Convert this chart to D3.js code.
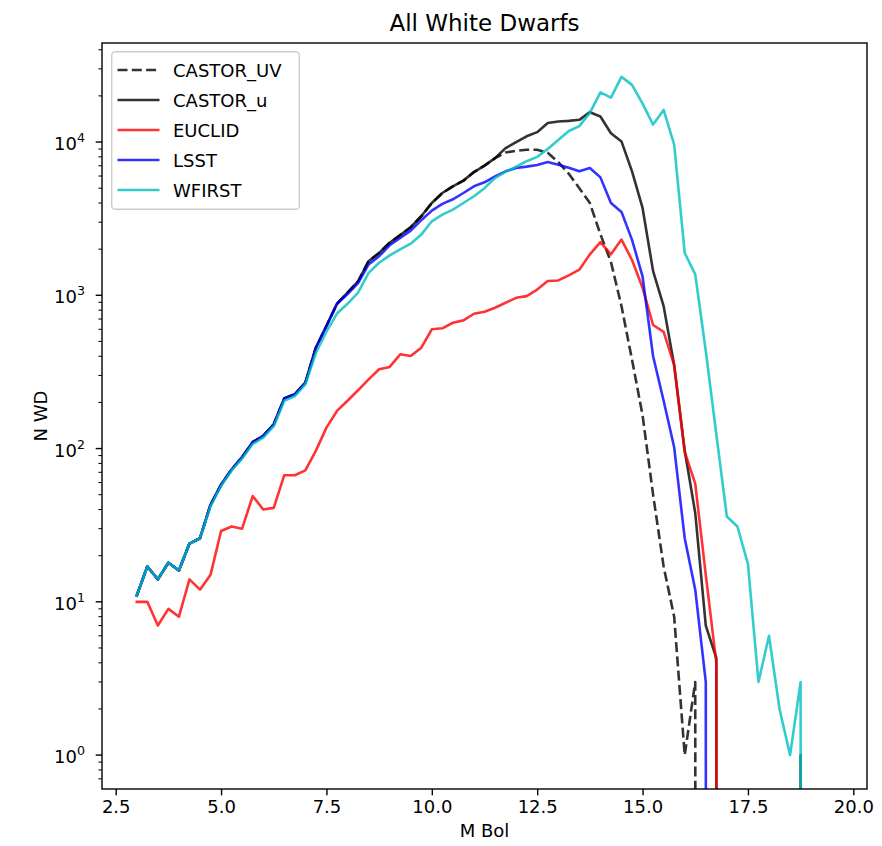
<!DOCTYPE html>
<html><head><meta charset="utf-8">
<script src="https://cdn.jsdelivr.net/npm/d3@7"></script>
<style>
body{margin:0;background:#fff;}
text{font-family:"DejaVu Sans",sans-serif;fill:#000;}
</style>
</head><body>
<svg id="chart" width="882" height="846"></svg>
<script>
// ---------------- DATA ----------------
const mBol = [3.0,3.25,3.5,3.75,4.0,4.25,4.5,4.75,5.0,5.25,5.5,5.75,6.0,6.25,6.5,6.75,
  7.0,7.25,7.5,7.75,8.0,8.25,8.5,8.75,9.0,9.25,9.5,9.75,10.0,10.25,10.5,10.75,
  11.0,11.25,11.5,11.75,12.0,12.25,12.5,12.75,13.0,13.25,13.5,13.75,14.0,14.25,14.5,14.75,
  15.0,15.25,15.5,15.75,16.0,16.25,16.5,16.75,17.0,17.25,17.5,17.75,18.0,18.25,18.5,18.75,
  19.0,19.25,19.5];

const castorUV = [11,17,14,18,16,24,26,43,58,73,88,110,121,144,212,226,
  269,455,630,880,1040,1230,1670,1890,2200,2470,2780,3280,4000,4650,5140,5600,
  6370,7010,7850,8550,8770,8900,8900,8500,7400,6200,5000,4000,2500,1650,850,380,
  165,50,17,8,1,3,0,0,0,0,0,0,0,0,0,0,
  0,0,0];

const castorU = [11,17,14,18,16,24,26,43,58,73,88,110,121,144,212,226,
  269,455,630,880,1040,1230,1670,1890,2200,2470,2780,3280,4000,4650,5140,5600,
  6370,7010,7850,9120,9980,10900,11600,13300,13600,13750,13960,15660,14680,11420,10090,6440,
  3714,1438,850,350,97,38,7,4.3,0,0,0,0,0,0,0,1,
  0,0,0];

const euclid = [10,10,7,9,8,14,12,15,29,31,30,49,40,41,67,67,
  72,97,137,176,205,240,283,329,341,412,402,455,600,609,662,686,
  758,781,829,894,963,988,1090,1240,1250,1350,1470,1850,2220,1850,2310,1700,
  1120,640,578,350,95,59,15,4,0,0,0,0,0,0,0,0,
  0,0,0];

const lsst = [11,17,14,18,16,24,26,43,58,73,88,110,121,144,212,226,
  269,455,630,880,1020,1200,1590,1800,2120,2370,2640,3090,3570,3950,4230,4650,
  5140,5460,5970,6440,6770,6910,7080,7400,7110,6800,6440,6770,5880,4000,3500,2300,
  1330,400,205,102,26,12,3,0,0,0,0,0,0,0,0,0,
  0,0,0];

const wfirst = [11,17,14,18,16,24,26,42,57,72,86,107,118,140,205,220,
  262,420,580,760,880,1040,1400,1630,1820,1990,2170,2490,3040,3360,3620,4000,
  4430,5000,5820,6400,6900,7500,8000,9000,10300,11800,12700,15500,21100,19500,26600,23600,
  17800,13000,16200,9600,1890,1370,433,124,36,31,17.7,3,6,2,1,3,
  0,0,0];

const seriesNames = ["CASTOR_UV","CASTOR_u","EUCLID","LSST","WFIRST"];
const seriesValues = [castorUV, castorU, euclid, lsst, wfirst];
const seriesColors = ["#000000","#000000","#ff0000","#0000ff","#00bfbf"];
const seriesDash = ["10,4.3", null, null, null, null];

const xTickValues = [2.5,5.0,7.5,10.0,12.5,15.0,17.5,20.0];
const yTickExponents = [0,1,2,3,4];

const titleText = "All White Dwarfs";
const xLabelText = "M Bol";
const yLabelText = "N WD";

// ---------------- LAYOUT ----------------
const W = 882, H = 846;
const plot = {left:102, right:867, top:43, bottom:789};
const svg = d3.select("#chart");

// x limits: matplotlib style 5% margins
const xMin = d3.min(mBol), xMax = d3.max(mBol);
const xPad = (xMax - xMin) * 0.05;
const x = d3.scaleLinear().domain([xMin - xPad, xMax + xPad]).range([plot.left, plot.right]);

// y limits (log): 5% margins in log space over positive data
const allPos = seriesValues.flat().filter(v => v > 0);
const lMin = Math.log10(d3.min(allPos)), lMax = Math.log10(d3.max(allPos));
const lPad = (lMax - lMin) * 0.05;
const y = d3.scaleLog().domain([Math.pow(10, lMin - lPad), Math.pow(10, lMax + lPad)]).range([plot.bottom, plot.top]);

svg.append("rect").attr("width", W).attr("height", H).attr("fill", "#fff");

svg.append("defs").append("clipPath").attr("id","plotclip")
  .append("rect").attr("x", plot.left).attr("y", plot.top)
  .attr("width", plot.right - plot.left).attr("height", plot.bottom - plot.top);

// lines
const line = d3.line()
  .x((d,i) => x(mBol[i]))
  .y(d => y(d > 0 ? d : 1e-100));

const gLines = svg.append("g").attr("clip-path","url(#plotclip)");
seriesValues.forEach((vals, k) => {
  gLines.append("path")
    .attr("d", line(vals))
    .attr("fill","none")
    .attr("stroke", seriesColors[k])
    .attr("stroke-opacity", 0.8)
    .attr("stroke-width", 2.6)
    .attr("stroke-linejoin","round")
    .attr("stroke-linecap", seriesDash[k] ? "butt" : "square")
    .attr("stroke-dasharray", seriesDash[k]);
});

// frame
svg.append("rect")
  .attr("x", plot.left).attr("y", plot.top)
  .attr("width", plot.right - plot.left).attr("height", plot.bottom - plot.top)
  .attr("fill","none").attr("stroke","#000").attr("stroke-width",1.4);

// x axis
const xAxis = d3.axisBottom(x).tickValues(xTickValues).tickSize(6.3).tickPadding(5)
  .tickFormat(d3.format(".1f"));
const gx = svg.append("g").attr("transform", `translate(0,${plot.bottom})`).call(xAxis);
gx.select(".domain").remove();
gx.selectAll(".tick line").attr("stroke","#000").attr("stroke-width",1.4);
gx.selectAll(".tick text").attr("font-family","DejaVu Sans").attr("font-size",18).attr("fill","#000");

// y axis major ticks
const majorVals = yTickExponents.map(e => Math.pow(10, e));
const gy = svg.append("g");
gy.selectAll("line.major").data(majorVals).enter().append("line")
  .attr("x1", plot.left - 6.3).attr("x2", plot.left)
  .attr("y1", d => y(d)).attr("y2", d => y(d))
  .attr("stroke","#000").attr("stroke-width",1.4);
// minor ticks
const [d0, d1] = y.domain();
const minorVals = [];
for (let e = Math.floor(Math.log10(d0)); e <= Math.ceil(Math.log10(d1)); e++) {
  for (let m = 2; m <= 9; m++) {
    const v = m * Math.pow(10, e);
    if (v >= d0 && v <= d1) minorVals.push(v);
  }
}
gy.selectAll("line.minor").data(minorVals).enter().append("line")
  .attr("x1", plot.left - 3.6).attr("x2", plot.left)
  .attr("y1", d => y(d)).attr("y2", d => y(d))
  .attr("stroke","#000").attr("stroke-width",1.0);
// labels
const yl = gy.selectAll("text.ylab").data(yTickExponents).enter().append("text")
  .attr("x", plot.left - 17).attr("y", d => y(Math.pow(10, d)) + 8)
  .attr("text-anchor","end").attr("font-size",18);
yl.append("tspan").text("10");
yl.append("tspan").attr("dy",-8).attr("font-size",12.6).text(d => d);

// title & labels
svg.append("text").attr("x",(plot.left+plot.right)/2).attr("y",31)
  .attr("text-anchor","middle").attr("font-size",23).text(titleText);
svg.append("text").attr("x",(plot.left+plot.right)/2).attr("y",837)
  .attr("text-anchor","middle").attr("font-size",18).text(xLabelText);
svg.append("text").attr("transform",`translate(47,${(plot.top+plot.bottom)/2}) rotate(-90)`)
  .attr("text-anchor","middle").attr("font-size",18).text(yLabelText);

// legend
const leg = svg.append("g");
leg.append("rect").attr("x",111.7).attr("y",51.7).attr("width",187.6).attr("height",157.6)
  .attr("rx",3.5).attr("fill","#fff").attr("fill-opacity",0.8)
  .attr("stroke","#cccccc").attr("stroke-width",1.4);
seriesNames.forEach((name,k) => {
  const cy = 70 + 30*k;
  leg.append("line").attr("x1",117.5).attr("x2",159.5).attr("y1",cy).attr("y2",cy)
    .attr("stroke",seriesColors[k]).attr("stroke-opacity",0.8).attr("stroke-width",2.6)
    .attr("stroke-dasharray",seriesDash[k]);
  leg.append("text").attr("x",173).attr("y",cy+6.5).attr("font-size",18).text(name);
});
</script>
</body></html>
